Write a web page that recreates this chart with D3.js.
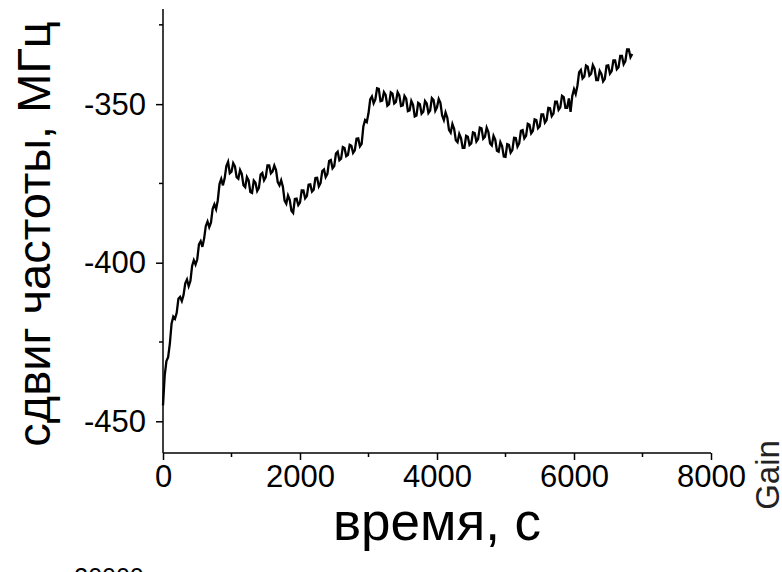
<!DOCTYPE html>
<html>
<head>
<meta charset="utf-8">
<script src="https://cdn.jsdelivr.net/npm/d3@7"></script>
<style>
  body { margin: 0; background: #fff; }
  text { font-family: "Liberation Sans", Arial, sans-serif; }
</style>
</head>
<body>
<div id="d3_container"></div>
<script>

const width = 782, height = 572;
const margin = {top: 9, bottom: 119, right: 71, left: 163};

// trace, one sample every 25 s:
// shiftA at 0, 50, 100 ... s and shiftB at 25, 75, 125 ... s
const tStep = 50;
const shiftA = [
  -445.0, -431.0, -425.5, -417.0, -415.8, -410.8, -410.2, -405.3, -405.8, -399.2,
  -398.9, -393.2, -392.4, -387.0, -387.4, -381.6, -380.3, -373.6, -373.4, -368.2,
  -371.3, -369.6, -373.5, -372.0, -376.2, -374.0, -378.0, -374.8, -376.4, -371.7,
  -373.0, -369.3, -371.2, -370.8, -375.6, -376.0, -381.4, -380.2, -384.3, -379.8,
  -381.0, -377.2, -379.0, -375.3, -377.0, -373.2, -374.9, -370.6, -372.0, -367.6,
  -369.5, -365.0, -367.2, -363.8, -366.0, -363.1, -364.6, -360.8, -362.5, -355.0,
  -352.9, -347.6, -348.5, -345.2, -348.9, -347.1, -350.0, -346.7, -349.3, -347.2,
  -350.4, -348.3, -352.0, -350.2, -353.6, -350.0, -352.4, -349.8, -352.0, -348.7,
  -351.0, -349.6, -355.0, -354.2, -359.0, -357.8, -362.0, -360.7, -363.8, -360.3,
  -362.4, -359.1, -361.0, -357.6, -360.3, -358.8, -363.0, -361.2, -365.0, -363.2,
  -366.6, -362.8, -364.5, -360.7, -362.4, -358.2, -360.0, -356.5, -358.4, -355.0,
  -357.0, -353.2, -355.0, -351.3, -353.0, -349.2, -351.0, -347.8, -351.2, -352.4,
  -345.3, -344.2, -339.2, -341.3, -338.2, -340.4, -338.8, -342.4, -340.5, -342.0,
  -337.8, -339.6, -336.2, -338.4, -334.8, -336.4, -332.7, -334.2
];
const shiftB = [
  -435.5, -429.8, -419.2, -417.7, -411.4, -412.1, -406.5, -407.4, -401.0, -400.6,
  -394.2, -395.0, -388.4, -388.8, -383.0, -383.1, -375.2, -375.6, -369.5, -371.8,
  -368.6, -373.0, -370.8, -375.6, -373.0, -377.7, -374.1, -377.4, -372.2, -374.0,
  -369.3, -371.8, -369.4, -374.6, -374.0, -380.4, -378.8, -383.6, -379.9, -381.8,
  -377.2, -379.7, -375.4, -377.6, -373.3, -375.9, -371.1, -373.0, -367.9, -370.2,
  -365.6, -367.7, -363.5, -366.4, -362.8, -365.4, -360.9, -363.3, -357.0, -355.6,
  -348.5, -349.7, -345.0, -349.1, -346.2, -350.5, -346.3, -349.8, -346.2, -350.6,
  -347.4, -352.2, -349.0, -353.9, -349.6, -353.0, -349.0, -352.8, -348.1, -352.1,
  -348.4, -353.6, -352.6, -358.1, -356.3, -361.4, -359.4, -363.8, -360.0, -362.9,
  -358.9, -361.8, -357.4, -360.9, -357.4, -362.4, -360.0, -364.7, -362.0, -366.5,
  -362.6, -365.3, -360.6, -363.4, -358.4, -360.8, -356.2, -359.2, -354.8, -357.6,
  -353.2, -355.8, -351.2, -353.8, -349.2, -351.8, -347.4, -351.2, -348.2, -347.4,
  -346.8, -339.9, -341.9, -337.8, -341.0, -337.7, -342.4, -339.5, -342.8, -337.9,
  -340.4, -336.2, -339.0, -334.8, -337.4, -332.7, -335.2
];

const xTicks = [0, 2000, 4000, 6000, 8000];
const xMinor = [1000, 3000, 5000, 7000];
const yTicks = [-450, -400, -350];
const yMinor = [-425, -375, -325];

const data = [];
shiftA.forEach((v, i) => {
  data.push({t: i * tStep, v: v});
  if (i < shiftB.length) data.push({t: i * tStep + tStep / 2, v: shiftB[i]});
});

const svg = d3.select("#d3_container").append("svg")
  .attr("width", width)
  .attr("height", height);

const x = d3.scaleLinear().domain([0, 8000]).range([margin.left, width - margin.right]);
const y = d3.scaleLinear().domain([-460, -320]).range([height - margin.bottom, margin.top]);

const line = d3.line()
  .x(d => x(d.t))
  .y(d => y(d.v));

svg.append("path")
  .datum(data)
  .attr("fill", "none")
  .attr("stroke", "#000")
  .attr("stroke-width", 2.3)
  .attr("d", line);

// x axis
const gx = svg.append("g")
  .attr("transform", `translate(0,${y(-460)})`)
  .call(d3.axisBottom(x).tickValues(xTicks).tickFormat(d3.format("d")).tickSize(7).tickPadding(5));
gx.append("g").selectAll("line").data(xMinor).join("line")
  .attr("x1", d => x(d)).attr("x2", d => x(d))
  .attr("y1", 0).attr("y2", 4).attr("stroke", "#000").attr("stroke-width", 1.5);

// y axis
const gy = svg.append("g")
  .attr("transform", `translate(${x(0)},0)`)
  .call(d3.axisLeft(y).tickValues(yTicks).tickFormat(d => "-" + Math.abs(d)).tickSize(7).tickPadding(10));
gy.append("g").selectAll("line").data(yMinor).join("line")
  .attr("y1", d => y(d)).attr("y2", d => y(d))
  .attr("x1", 0).attr("x2", -4).attr("stroke", "#000").attr("stroke-width", 1.5);

[gx, gy].forEach(g => {
  g.select(".domain").remove();
  g.selectAll(".tick line").attr("stroke-width", 1.5);
  g.selectAll(".tick text").attr("fill", "#000").style("font-size", "31px")
    .style("font-family", "'Liberation Sans', Arial, sans-serif");
});
svg.append("line").attr("x1", x(0)).attr("x2", x(8000)).attr("y1", y(-460)).attr("y2", y(-460))
  .attr("stroke", "#000").attr("stroke-width", 1.5);
svg.append("line").attr("x1", x(0)).attr("x2", x(0)).attr("y1", y(-460)).attr("y2", y(-320))
  .attr("stroke", "#000").attr("stroke-width", 1.5);

// axis titles
svg.append("text")
  .attr("x", (x(0) + x(8000)) / 2)
  .attr("y", 540)
  .attr("text-anchor", "middle")
  .style("font-size", "53px")
  .text("время, с");

svg.append("text")
  .attr("transform", `translate(50,${(y(-460) + y(-320)) / 2 + 3}) rotate(-90)`)
  .attr("text-anchor", "middle")
  .style("font-size", "47px")
  .text("сдвиг частоты, МГц");

svg.append("text")
  .attr("transform", "translate(779,475) rotate(-90)")
  .attr("text-anchor", "middle")
  .attr("fill", "#222")
  .style("font-size", "33px")
  .text("Gain");

svg.append("text")
  .attr("x", 109)
  .attr("y", 586)
  .attr("text-anchor", "middle")
  .style("font-size", "25px")
  .text("30000");

</script>
</body>
</html>
